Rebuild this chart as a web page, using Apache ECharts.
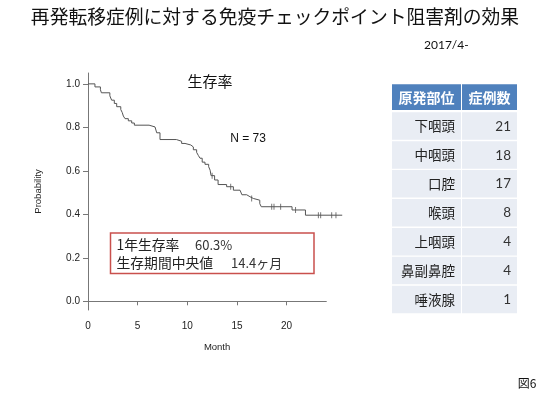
<!DOCTYPE html>
<html><head><meta charset="utf-8">
<script src="https://cdn.jsdelivr.net/npm/echarts@6/dist/echarts.min.js"></script>
<style>html,body{margin:0;padding:0;background:#fff}#c{width:550px;height:395px}</style>
</head><body><div id="c"></div>
<script>
// Kaplan-Meier step points (month, survival after event)
const months = [0, 0.70, 1.25, 1.35, 2.2, 2.38, 2.65, 2.89, 3.3, 3.45, 3.56, 3.73, 4.06, 4.40, 4.67, 6.15, 6.75, 6.92, 7.25, 8.9, 9.43, 9.77, 10.35, 10.61, 10.94, 11.11, 11.28, 11.5, 11.78, 12.15, 12.3, 12.39, 12.75, 13.1, 13.96, 14.64, 15.31, 15.5, 15.98, 16.31, 16.65, 17.3, 17.45, 20.55, 21.9, 25.6];
const survival = [1.0, 0.986, 0.973, 0.959, 0.945, 0.925, 0.910, 0.895, 0.882, 0.868, 0.852, 0.840, 0.830, 0.820, 0.810, 0.802, 0.794, 0.775, 0.744, 0.736, 0.726, 0.719, 0.710, 0.697, 0.685, 0.671, 0.658, 0.640, 0.630, 0.619, 0.603, 0.578, 0.558, 0.537, 0.527, 0.511, 0.502, 0.490, 0.481, 0.473, 0.465, 0.449, 0.435, 0.420, 0.396, 0.396];
// censored observations
const censorMonths = [12.5, 14.37, 16.48, 18.5, 18.73, 19.4, 20.9, 23.2, 23.43, 24.54, 24.97];
const censorSurvival = [0.578, 0.527, 0.473, 0.435, 0.435, 0.435, 0.420, 0.396, 0.396, 0.396, 0.396];
const xTicks = [0, 5, 10, 15, 20];
const yTicks = [0, 0.2, 0.4, 0.6, 0.8, 1.0];
// table
const tableHeader = ['原発部位', '症例数'];
const sites = ['下咽頭', '中咽頭', '口腔', '喉頭', '上咽頭', '鼻副鼻腔', '唾液腺'];
const counts = [21, 18, 17, 8, 4, 4, 1];
// texts
const mainTitle = '再発転移症例に対する免疫チェックポイント阻害剤の効果';
const periodLabel = '2017/4-';
const chartTitle = '生存率';
const nLabel = 'N = 73';
const statLabels = ['1年生存率', '生存期間中央値'];
const statValues = ['60.3%', '14.4ヶ月'];
const figLabel = '図6';

const CJK = "'Noto Sans CJK JP', sans-serif";
const SANS = "'Liberation Sans', Arial, sans-serif";

const kmData = months.map((m, i) => [m, survival[i]]);
const censorData = censorMonths.map((m, i) => [m, censorSurvival[i]]);

const PX_PER_MONTH = 9.93;
const GRID_LEFT = 88, GRID_TOP = 73, GRID_H = 237;

const graphic = [];
graphic.push({type:'text', x: 275, y: 17, style:{text: mainTitle, fill:'#111', font: `18.8px ${CJK}`, textAlign:'center', textVerticalAlign:'middle'}});
graphic.push({type:'text', x: 424, y: 45, style:{text: periodLabel, fill:'#111', font: `12px Lato, ${SANS}`, textAlign:'left', textVerticalAlign:'middle'}});
graphic.push({type:'text', x: 210, y: 81, style:{text: chartTitle, fill:'#111', font: `15px ${CJK}`, textAlign:'center', textVerticalAlign:'middle'}});
graphic.push({type:'text', x: 248, y: 139, style:{text: nLabel, fill:'#111', font: `12px ${SANS}`, textAlign:'center', textVerticalAlign:'middle'}});
graphic.push({type:'rect', shape:{x:110.5, y:233, width:203.5, height:40.5}, style:{fill:'#fff', stroke:'#c9504d', lineWidth:1.5}});
const statY = [245, 263];
const statValX = [195, 231];
statLabels.forEach((t, i) => {
  graphic.push({type:'text', x: 116.5, y: statY[i], style:{text: t, fill:'#222', font: `13.8px ${CJK}`, textAlign:'left', textVerticalAlign:'middle'}});
  graphic.push({type:'text', x: statValX[i], y: statY[i], style:{text: statValues[i], fill:'#333', font: `13px ${CJK}`, textAlign:'left', textVerticalAlign:'middle'}});
});
const col1X = 392, col1W = 69, col2X = 462, col2W = 55;
graphic.push({type:'rect', shape:{x:col1X, y:84.3, width:col1W, height:25.7}, style:{fill:'#4f81bd'}});
graphic.push({type:'rect', shape:{x:col2X, y:84.3, width:col2W, height:25.7}, style:{fill:'#4f81bd'}});
graphic.push({type:'text', x: col1X + col1W/2, y: 97.5, style:{text: tableHeader[0], fill:'#fff', font:`bold 14px ${CJK}`, textAlign:'center', textVerticalAlign:'middle'}});
graphic.push({type:'text', x: col2X + col2W/2, y: 97.5, style:{text: tableHeader[1], fill:'#fff', font:`bold 14px ${CJK}`, textAlign:'center', textVerticalAlign:'middle'}});
sites.forEach((s, i) => {
  const top = 112.3 + i * 28.9;
  graphic.push({type:'rect', shape:{x:col1X, y:top, width:col1W, height:27.5}, style:{fill:'#e9edf4'}});
  graphic.push({type:'rect', shape:{x:col2X, y:top, width:col2W, height:27.5}, style:{fill:'#e9edf4'}});
  graphic.push({type:'text', x: 455, y: top + 14, style:{text: s, fill:'#222', font:`13.5px ${CJK}`, textAlign:'right', textVerticalAlign:'middle'}});
  graphic.push({type:'text', x: 511, y: top + 14, style:{text: String(counts[i]), fill:'#333', font:`13.5px Lato, ${SANS}`, textAlign:'right', textVerticalAlign:'middle'}});
});
graphic.push({type:'text', x: 527, y: 383, style:{text: figLabel, fill:'#111', font:`12px ${CJK}`, textAlign:'center', textVerticalAlign:'middle'}});

const chart = echarts.init(document.getElementById('c'), null, {renderer:'canvas'});
chart.setOption({
  animation: false,
  backgroundColor: '#fff',
  textStyle: {fontFamily: SANS},
  grid: [
    // data grid: extends to 26 months so the curve can run past the drawn axis
    {left: GRID_LEFT, top: GRID_TOP, width: 26 * PX_PER_MONTH, height: GRID_H},
    // axis-line grid: 0..24 months
    {left: GRID_LEFT, top: GRID_TOP, width: 24 * PX_PER_MONTH, height: GRID_H}
  ],
  xAxis: [{
    gridIndex: 0, type: 'value', min: 0, max: 26,
    name: 'Month', nameLocation: 'middle', nameGap: 32,
    nameTextStyle: {fontSize: 9.5, color: '#222', fontFamily: SANS},
    axisLine: {show: false},
    axisTick: {show: true, length: 4, lineStyle: {color: '#777'}, customValues: xTicks},
    axisLabel: {fontSize: 10, color: '#222', margin: 11, customValues: xTicks, formatter: v => String(v)},
    splitLine: {show: false}
  }, {
    gridIndex: 1, type: 'value', min: 0, max: 24,
    axisLine: {show: true, lineStyle: {color: '#777', width: 1}},
    axisTick: {show: false}, axisLabel: {show: false}, splitLine: {show: false}
  }],
  yAxis: [{
    gridIndex: 0, type: 'value', min: -0.04, max: 1.05,
    name: 'Probability', nameLocation: 'middle', nameGap: 45, nameRotate: 90,
    nameTextStyle: {fontSize: 9.5, color: '#222', fontFamily: SANS},
    axisLine: {show: true, lineStyle: {color: '#777', width: 1}},
    axisTick: {show: true, length: 5, lineStyle: {color: '#777'}, customValues: yTicks},
    axisLabel: {fontSize: 10, color: '#222', margin: 8, customValues: yTicks, formatter: v => v.toFixed(1)},
    splitLine: {show: false}
  }, {
    gridIndex: 1, type: 'value', min: -0.04, max: 1.05, show: false
  }],
  series: [
    {type: 'line', xAxisIndex: 0, yAxisIndex: 0, data: kmData, step: 'end', showSymbol: false,
     lineStyle: {color: '#555', width: 1}, silent: true},
    {type: 'scatter', xAxisIndex: 0, yAxisIndex: 0, data: censorData, symbol: 'rect', symbolSize: [1, 6],
     itemStyle: {color: '#555'}, silent: true}
  ],
  graphic: graphic
});
</script></body></html>
